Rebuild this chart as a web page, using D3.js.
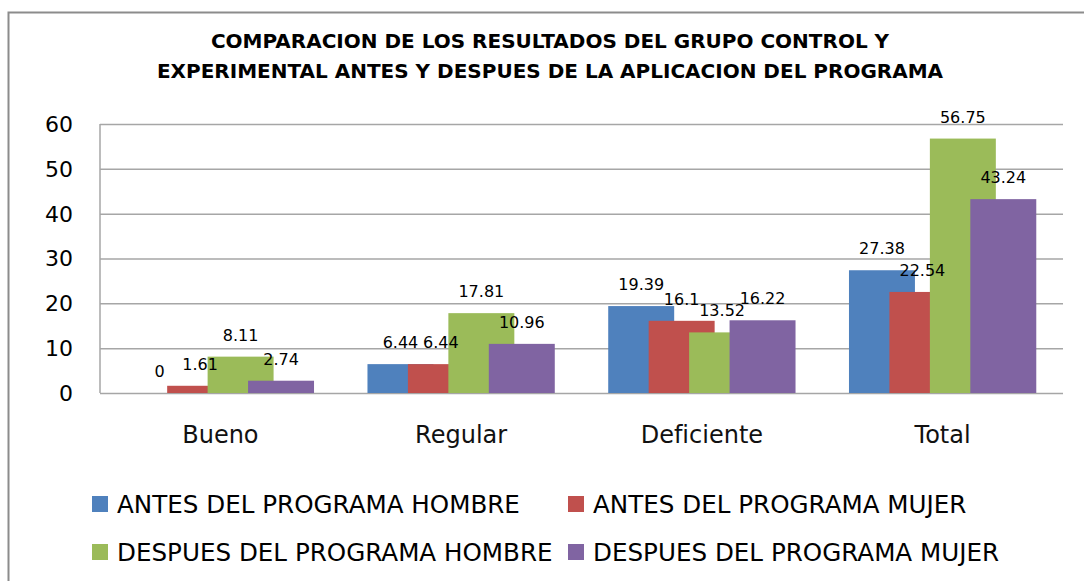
<!doctype html>
<html lang="es">
<head>
<meta charset="utf-8">
<title>Comparacion de resultados</title>
<style>
  body { margin: 0; background: #fff; }
  svg { display: block; }
  .grid line { stroke: #a6a6a6; stroke-width: 1.5; }
  .grid .domain { display: none; }
</style>
</head>
<body>
<div id="chart"></div>
<script src="https://cdn.jsdelivr.net/npm/d3@7/dist/d3.min.js"></script>
<script>
// ---------------- data
var categories = ["Bueno", "Regular", "Deficiente", "Total"];
var series = ["ANTES DEL PROGRAMA HOMBRE", "ANTES DEL PROGRAMA MUJER",
              "DESPUES DEL PROGRAMA HOMBRE", "DESPUES DEL PROGRAMA MUJER"];
var antesHombre   = [0, 6.44, 19.39, 27.38];
var antesMujer    = [1.61, 6.44, 16.1, 22.54];
var despuesHombre = [8.11, 17.81, 13.52, 56.75];
var despuesMujer  = [2.74, 10.96, 16.22, 43.24];
var yTicks = [0, 10, 20, 30, 40, 50, 60];
var colors = ["#4f81bd", "#c0504d", "#9bbb59", "#8064a2"];
var title = ["COMPARACION DE LOS RESULTADOS DEL GRUPO CONTROL Y",
             "EXPERIMENTAL ANTES Y DESPUES DE LA APLICACION DEL PROGRAMA"];

var values = [antesHombre, antesMujer, despuesHombre, despuesMujer];

// ---------------- svg
var width = 1084, height = 581;
var svg = d3.select("#chart").append("svg")
    .attr("width", width).attr("height", height);

// outer chart border
svg.append("path")
    .attr("d", "M8.5," + height + " V12.5 H" + width)
    .attr("fill", "none").attr("stroke", "#8c8c8c").attr("stroke-width", 2);

// title
svg.append("text")
    .attr("x", 550).attr("y", 48)
    .attr("text-anchor", "middle")
    .attr("font-family", "DejaVu Sans").attr("font-weight", "bold")
    .attr("font-size", "20px").attr("fill", "#000")
    .selectAll("tspan").data(title).enter()
    .append("tspan")
    .attr("x", 550).attr("dy", function(d, i) { return i ? 30 : 0; })
    .text(function(d) { return d; });

// ---------------- scales
var plot = { left: 100, right: 1063, top: 124, bottom: 393 };
var x = d3.scaleBand().domain(categories).range([plot.left, plot.right]).padding(0);
var y = d3.scaleLinear().domain([0, 60]).range([plot.bottom, plot.top]);

var bw = x.bandwidth();
var barW = bw * 0.274;
var step = bw * 0.168;
var groupW = step * 3 + barW;

// gridlines
svg.append("g").attr("class", "grid")
    .attr("transform", "translate(" + plot.left + ",0)")
    .call(d3.axisLeft(y).tickValues(yTicks).tickSize(-(plot.right - plot.left)).tickFormat(""));

// y axis line
svg.append("line")
    .attr("x1", plot.left).attr("x2", plot.left)
    .attr("y1", plot.top).attr("y2", plot.bottom)
    .attr("stroke", "#a6a6a6").attr("stroke-width", 1.5);

// y tick labels
svg.append("g").selectAll("text").data(yTicks).enter()
    .append("text")
    .attr("x", 73).attr("y", function(d) { return y(d); })
    .attr("dy", "0.36em")
    .attr("text-anchor", "end")
    .attr("font-family", "DejaVu Sans").attr("font-size", "22px").attr("fill", "#000")
    .text(function(d) { return d; });

// category labels
svg.append("g").selectAll("text").data(categories).enter()
    .append("text")
    .attr("x", function(d) { return x(d) + bw / 2; })
    .attr("y", 443)
    .attr("text-anchor", "middle")
    .attr("font-family", "DejaVu Sans").attr("font-size", "24px").attr("fill", "#111")
    .text(function(d) { return d; });

// ---------------- bars (drawn in series order, later ones overlap earlier ones)
var bars = svg.append("g");
values.forEach(function(vals, s) {
  var g = bars.append("g");
  g.selectAll("rect").data(vals).enter()
    .append("rect")
    .attr("x", function(d, i) { return x(categories[i]) + bw / 2 - groupW / 2 + s * step; })
    .attr("y", function(d) { return y(d); })
    .attr("width", barW)
    .attr("height", function(d) { return y(0) - y(d); })
    .attr("fill", colors[s]);
});

// data labels on top
var labels = svg.append("g");
values.forEach(function(vals, s) {
  labels.append("g").selectAll("text").data(vals).enter()
    .append("text")
    .attr("x", function(d, i) { return x(categories[i]) + bw / 2 - groupW / 2 + s * step + barW / 2; })
    .attr("y", function(d) { return y(d) - 16; })
    .attr("text-anchor", "middle")
    .attr("font-family", "DejaVu Sans").attr("font-size", "16px").attr("fill", "#000")
    .text(function(d) { return d; });
});

// ---------------- legend
var legendPos = [[92, 496], [568, 496], [92, 544], [568, 544]];
var legend = svg.append("g").selectAll("g").data(series).enter()
    .append("g")
    .attr("transform", function(d, i) { return "translate(" + legendPos[i][0] + "," + legendPos[i][1] + ")"; });
legend.append("rect")
    .attr("width", 16).attr("height", 16)
    .attr("fill", function(d, i) { return colors[i]; });
legend.append("text")
    .attr("x", 25).attr("y", 8).attr("dy", "0.36em")
    .attr("font-family", "DejaVu Sans").attr("font-size", "24.6px").attr("fill", "#000")
    .text(function(d) { return d; });
</script>
</body>
</html>
